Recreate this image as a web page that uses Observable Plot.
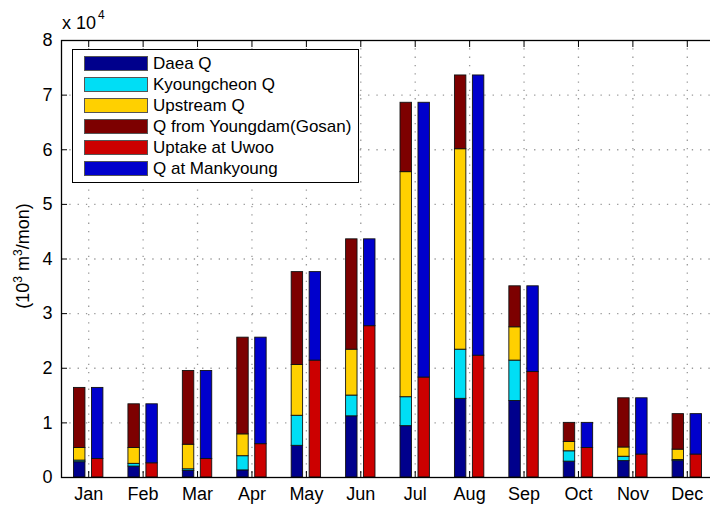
<!DOCTYPE html>
<html>
<head>
<meta charset="utf-8">
<script src="https://cdn.jsdelivr.net/npm/d3@7"></script>
<script src="https://cdn.jsdelivr.net/npm/@observablehq/plot@0.6"></script>
<style>
html, body { margin: 0; padding: 0; background: #fff; overflow: hidden; }
#wrap { position: relative; width: 710px; height: 507px; font-family: "Liberation Sans", Arial, Helvetica, sans-serif; }
#legend { position: absolute; left: 72px; top: 49px; width: 287px; height: 134px; box-sizing: border-box;
  border: 1px solid #000; background: #fff; padding: 3px 0 2px 11px; }
#legend .row { height: 21px; display: flex; align-items: center; white-space: nowrap; font-size: 17px; color: #000; }
#legend .sw { width: 64px; height: 15px; box-sizing: border-box; border: 1px solid #555; margin-right: 5px; flex: none; }
</style>
</head>
<body>
<div id="wrap"></div>
<script>
// Month labels
const months = ["Jan","Feb","Mar","Apr","May","Jun","Jul","Aug","Sep","Oct","Nov","Dec"];
// Left stacked bar series (10^3 m^3/mon)
const daeaQ        = [2800, 2000, 1200, 1300, 5800, 11200,  9400, 14400, 14000, 2900, 3000, 3000];
const kyoungcheonQ = [ 300,  500,  300, 2600, 5500,  3800,  5300,  9000,  7400, 1900,  800,  200];
const upstreamQ    = [2300, 2900, 4500, 4000, 9300,  8400, 41200, 36700,  6100, 1700, 1700, 1900];
const youngdamQ    = [11000, 8000, 13500, 17700, 17000, 20200, 12700, 13500, 7500, 3500, 9000, 6500];
// Right stacked bar series
const uptakeUwoo   = [3400, 2600, 3400, 6100, 21400, 27700, 18300, 22300, 19300, 5400, 4200, 4200];
const mankyoungQ   = [13000, 10800, 16100, 19500, 16200, 15900, 50300, 51300, 15700, 4600, 10300, 7400];
// Series names
const leftNames  = ["Daea Q", "Kyoungcheon Q", "Upstream Q", "Q from Youngdam(Gosan)"];
const rightNames = ["Uptake at Uwoo", "Q at Mankyoung"];
const colors = {
  "Daea Q": "#00008c",
  "Kyoungcheon Q": "#00def5",
  "Upstream Q": "#ffd000",
  "Q from Youngdam(Gosan)": "#7d0000",
  "Uptake at Uwoo": "#cc0000",
  "Q at Mankyoung": "#0000cc"
};
const yTicks = [0,1,2,3,4,5,6,7,8];

const leftSeries = [daeaQ, kyoungcheonQ, upstreamQ, youngdamQ];
const rightSeries = [uptakeUwoo, mankyoungQ];
const leftRows = [], rightRows = [];
months.forEach((m, i) => {
  leftSeries.forEach((s, j) => leftRows.push({month: i + 1, series: leftNames[j], value: s[i]}));
  rightSeries.forEach((s, j) => rightRows.push({month: i + 1, series: rightNames[j], value: s[i]}));
});

const dotted = {stroke: "#999", strokeOpacity: 1, strokeWidth: 1.3, strokeDasharray: "1.3,7"};

const chart = Plot.plot({
  width: 710,
  height: 507,
  marginLeft: 61,
  marginRight: -4,
  marginTop: 40,
  marginBottom: 30,
  style: {fontFamily: "'Liberation Sans', Arial, Helvetica, sans-serif", background: "transparent", overflow: "hidden"},
  x: {type: "linear", domain: [0.5, 12.5]},
  y: {domain: [0, 80000]},
  color: {domain: Object.keys(colors), range: Object.values(colors)},
  marks: [
    Plot.gridY(yTicks.slice(1, 8).map(d => d * 1e4), dotted),
    Plot.gridX(d3.range(1, 13), dotted),
    Plot.rectY(leftRows, {
      x1: d => d.month - 0.27, x2: d => d.month - 0.06,
      y: "value", z: "series", fill: "series", order: null,
      stroke: "#111", strokeWidth: 0.9
    }),
    Plot.rectY(rightRows, {
      x1: d => d.month + 0.06, x2: d => d.month + 0.27,
      y: "value", z: "series", fill: "series", order: null,
      stroke: "#111", strokeWidth: 0.9
    }),
    Plot.frame({stroke: "#000", strokeWidth: 1.3}),
    // tick labels
    Plot.axisX(d3.range(1, 13), {anchor: "bottom", tickSize: 0, tickPadding: 10, fontSize: 18, tickFormat: d => months[d - 1], label: null, fill: "#000"}),
    Plot.axisY(yTicks.map(d => d * 1e4), {anchor: "left", tickSize: 0, tickPadding: 9, fontSize: 18, tickFormat: d => String(d / 1e4), label: null, fill: "#000"}),
    // inward tick marks
    Plot.axisX(d3.range(1, 13), {anchor: "bottom", tickSize: -6, text: null, label: null, stroke: "#000"}),
    Plot.axisX(d3.range(1, 13), {anchor: "top", tickSize: -6, text: null, label: null, stroke: "#000"}),
    Plot.axisY(yTicks.map(d => d * 1e4), {anchor: "left", tickSize: -6, text: null, label: null, stroke: "#000"})
  ]
});

const wrap = document.getElementById("wrap");
wrap.appendChild(chart);

// y-axis label with superscripts and exponent note
const svg = d3.select(chart);
const yl = svg.append("text")
  .attr("transform", "translate(29,256) rotate(-90)")
  .attr("text-anchor", "middle")
  .style("font-size", "18px")
  .attr("fill", "#000");
yl.append("tspan").text("(10");
yl.append("tspan").attr("dy", -7).style("font-size", "12px").text("3");
yl.append("tspan").attr("dy", 7).text(" m");
yl.append("tspan").attr("dy", -7).style("font-size", "12px").text("3");
yl.append("tspan").attr("dy", 7).text("/mon)");

const ex = svg.append("text")
  .attr("x", 62).attr("y", 29)
  .attr("text-anchor", "start")
  .style("font-size", "18px")
  .attr("fill", "#000");
ex.append("tspan").text("x 10");
ex.append("tspan").attr("dy", -10).attr("dx", 2).style("font-size", "12px").text("4");

// legend
const legend = document.createElement("div");
legend.id = "legend";
Object.keys(colors).forEach(name => {
  const row = document.createElement("div");
  row.className = "row";
  const sw = document.createElement("span");
  sw.className = "sw";
  sw.style.background = colors[name];
  const lab = document.createElement("span");
  lab.textContent = name;
  row.appendChild(sw);
  row.appendChild(lab);
  legend.appendChild(row);
});
wrap.appendChild(legend);
</script>
</body>
</html>
